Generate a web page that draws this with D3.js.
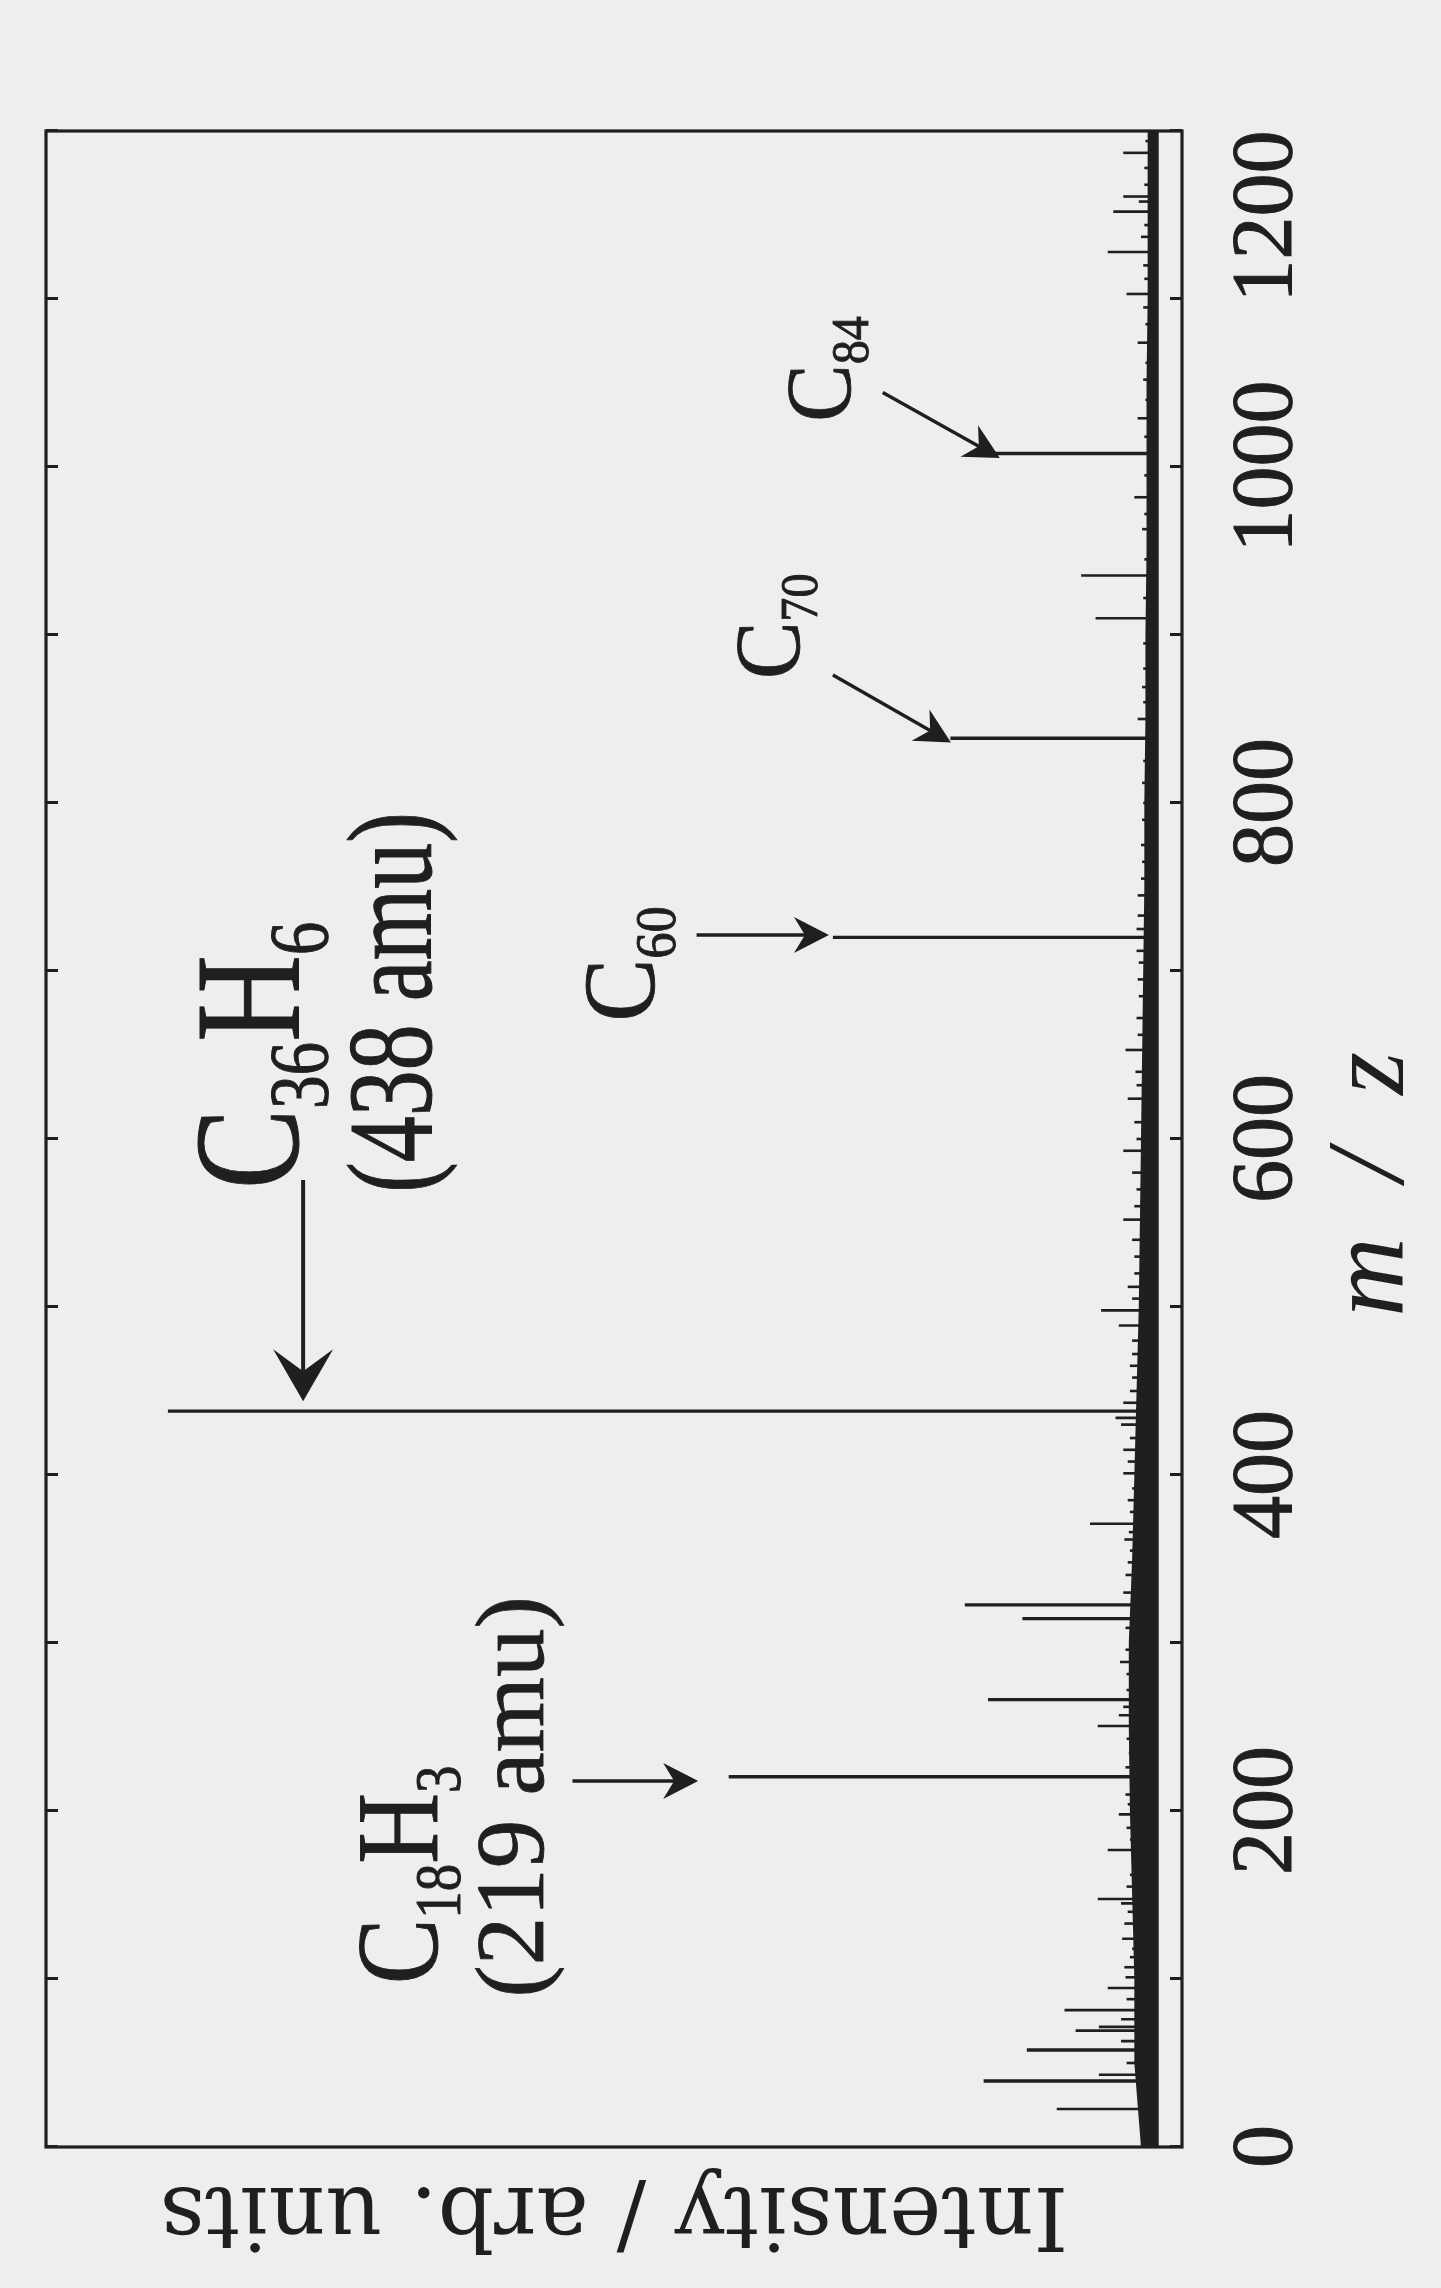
<!DOCTYPE html>
<html>
<head>
<meta charset="utf-8">
<script src="https://cdn.jsdelivr.net/npm/d3@7"></script>
<style>
  body { margin: 0; background: #eeeeef; }
  svg { display: block; }
</style>
</head>
<body>
<div id="chart"></div>
<script>
// stick spectrum: m/z of each visible stick and its height (arb. units, full frame = 100)
const peakMz = [22.6, 30, 39.3, 43, 50, 57.7, 63, 69.3, 71.5, 76, 81.5, 88, 94.6, 101, 107, 113, 118, 124,
    133, 140, 145, 147.6, 155, 162, 170.8, 176.8, 183, 190, 198, 204, 209.8, 214, 220.4, 226, 234.5, 243,
    250.6, 257, 262, 266.3, 272, 281.5, 288.7, 296, 303, 309, 314.5, 322.7, 330, 340.5, 348, 355, 361.6,
    366, 371, 378, 385, 392, 401, 408, 415, 422, 430, 434, 438, 443, 450, 458, 465, 472, 480, 489, 498,
    505, 512, 520, 530, 540, 552, 560, 570, 580, 593, 600, 610, 624, 632, 640, 653, 662, 672, 685, 695,
    705, 712, 720, 725, 733, 745, 755, 765, 775, 790, 800, 812, 825, 838.5, 850, 860, 869, 880, 895, 910,
    922, 935.4, 945, 963, 972, 982, 995, 1008, 1018, 1029, 1040, 1052, 1062, 1074, 1085, 1095, 1103,
    1112, 1120, 1128, 1137, 1144, 1152, 1158, 1161, 1168, 1178, 1187, 1194]
const peakInt = [8.8, 1.2, 15.4, 5.0, 2.5, 11.5, 3.0, 7.1, 5.0, 3.0, 8.1, 2.5, 4.2, 2.6, 2.7, 2.2, 2.0, 2.9,
    2.7, 2.4, 3.0, 5.1, 2.5, 2.2, 1.8, 4.2, 2.2, 2.5, 3.2, 2.4, 2.6, 2.2, 38.4, 2.6, 2.3, 2.5,
    5.1, 3.2, 2.8, 15.0, 2.5, 2.5, 3.1, 2.6, 2.2, 2.6, 11.9, 17.1, 2.8, 2.6, 2.4, 2.2, 2.7,
    2.3, 5.8, 2.2, 2.4, 2.0, 2.8, 2.4, 2.8, 2.2, 3.0, 3.5, 89.0, 2.8, 2.2, 2.0, 2.2, 2.0, 2.0, 3.2, 4.8,
    2.0, 2.4, 1.8, 1.8, 2.0, 2.8, 1.8, 1.6, 2.0, 2.8, 1.6, 1.8, 2.4, 1.6, 1.7, 2.6, 1.5, 1.6, 1.4, 1.5,
    1.4, 1.6, 29.0, 1.6, 1.5, 1.5, 1.2, 1.1, 1.2, 1.1, 1.0, 1.1, 1.0, 18.4, 1.5, 1.0, 1.1, 1.0, 1.0, 5.3,
    1.0, 6.6, 0.9, 1.1, 0.9, 1.8, 0.9, 14.5, 0.9, 1.5, 0.8, 1.0, 0.8, 1.5, 0.8, 1.0, 2.5,
    0.9, 1.0, 4.2, 1.2, 0.9, 3.7, 1.4, 2.8, 0.9, 0.9, 2.8, 0.8]

// height of the dense noise band that makes the thick baseline
const noiseMz = [0, 50, 100, 150, 200, 250, 300, 350, 400, 450, 500, 550, 600, 650, 700, 750, 800, 850,
    900, 950, 1000, 1050, 1100, 1150, 1200]
const noiseInt = [1.2, 1.8, 1.8, 2.0, 2.2, 2.3, 2.3, 2.0, 1.8, 1.6, 1.4, 1.3, 1.2, 1.1, 1.0, 0.9, 0.9, 0.8,
    0.8, 0.7, 0.7, 0.7, 0.6, 0.6, 0.6]

// axis ticks
const tickMz = [0, 100, 200, 300, 400, 500, 600, 700, 800, 900, 1000, 1100, 1200]
const labelledMz = [0, 200, 400, 600, 800, 1000, 1200]

// peak labels: text parts (plain, sub, plain, sub) and where they start, in data units
const labelParts = [["C", "36", "H", "6"], ["(438 amu)"], ["C", "18", "H", "3"], ["(219 amu)"],
    ["C", "60"], ["C", "70"], ["C", "84"]]
const labelMz = [570.2, 568, 97, 89, 670, 873.8, 1027]
const labelInt = [77.3, 65.3, 64.7, 55.2, 45.1, 32.1, 27.5]

// arrows: tail and tip, in data units
const arrowFrom = [[575.6, 76.8], [217.9, 52.5], [721.4, 41.3], [876.2, 29.0], [1044.3, 24.5]]
const arrowTo = [[457, 76.8], [217.9, 42.6], [721.4, 30.8], [840.8, 19.6], [1010, 15.2]]

// label styling (font size, vertical stretch of the glyphs)
const labelSize = [120, 92, 98, 97, 94, 86, 86]
const labelStretch = [1.25, 1.32, 1.18, 1.0, 1.08, 1.08, 1.08]

const ink = "#1f1f1f"
const serif = "'Liberation Serif', 'DejaVu Serif', serif"

// the chart is drawn upright, then turned a quarter turn counter-clockwise
const width = 2016, height = 1136

const svg = d3.select("#chart")
    .append("svg")
    .attr("width", 1441)
    .attr("height", 2288)

svg.append("rect")
    .attr("width", 1441)
    .attr("height", 2288)
    .attr("fill", "#eeeeef")

const defs = svg.append("defs")
defs.append("marker")
    .attr("id", "headBig")
    .attr("markerUnits", "userSpaceOnUse")
    .attr("viewBox", "-60 -35 62 70")
    .attr("markerWidth", 62)
    .attr("markerHeight", 70)
    .attr("refX", -22)
    .attr("refY", 0)
    .attr("orient", "auto")
    .append("path")
    .attr("d", "M0,0 L-52,-30 L-30,0 L-52,30 Z")
    .attr("fill", ink)
defs.append("marker")
    .attr("id", "headSmall")
    .attr("markerUnits", "userSpaceOnUse")
    .attr("viewBox", "-40 -22 42 44")
    .attr("markerWidth", 42)
    .attr("markerHeight", 44)
    .attr("refX", -16)
    .attr("refY", 0)
    .attr("orient", "auto")
    .append("path")
    .attr("d", "M0,0 L-35,-18 L-24,0 L-35,18 Z")
    .attr("fill", ink)

const g = svg.append("g")
    .attr("transform", "translate(46, 2147) rotate(-90)")

const x = d3.scaleLinear().domain([0, 1200]).range([0, width])
const y = d3.scaleLinear().domain([-2.5, 100]).range([height, 0])

// noise band along the baseline
g.append("path")
    .datum(noiseMz.map((m, i) => ({mz: m, v: noiseInt[i]})))
    .attr("d", d3.area()
        .x(d => x(d.mz))
        .y0(y(-0.4))
        .y1(d => y(d.v)))
    .attr("fill", ink)

// sticks
g.selectAll(".stick")
    .data(peakMz.map((m, i) => ({mz: m, v: peakInt[i]})))
    .join("line")
    .attr("class", "stick")
    .attr("x1", d => x(d.mz))
    .attr("x2", d => x(d.mz))
    .attr("y1", y(0))
    .attr("y2", d => y(d.v))
    .attr("stroke", ink)
    .attr("stroke-width", d => d.v > 10 ? 3.4 : 2.6)

// frame
g.append("rect")
    .attr("width", width)
    .attr("height", height)
    .attr("fill", "none")
    .attr("stroke", ink)
    .attr("stroke-width", 3.2)

// m/z axis (bottom when upright) with inward ticks
const xAxis = g.append("g")
    .attr("transform", `translate(0, ${height})`)
    .call(d3.axisBottom(x)
        .tickValues(tickMz)
        .tickSizeInner(-12)
        .tickSizeOuter(0)
        .tickPadding(48)
        .tickFormat(d => labelledMz.includes(d) ? d : ""))
xAxis.select(".domain").remove()
xAxis.selectAll("line").attr("stroke", ink).attr("stroke-width", 3)
xAxis.selectAll("text")
    .attr("fill", ink)
    .attr("stroke", ink)
    .attr("stroke-width", 1)
    .attr("text-anchor", d => d === 1200 ? "end" : "middle")
    .style("font-family", serif)
    .style("font-size", "86px")

// matching ticks on the opposite side, no labels
const topAxis = g.append("g")
    .call(d3.axisTop(x)
        .tickValues(tickMz)
        .tickSizeInner(-12)
        .tickSizeOuter(0)
        .tickFormat(""))
topAxis.select(".domain").remove()
topAxis.selectAll("line").attr("stroke", ink).attr("stroke-width", 3)

// axis titles
const mzTitle = g.append("text")
    .attr("x", x(573))
    .attr("y", height + 221)
    .attr("text-anchor", "middle")
    .attr("fill", ink)
    .style("font-family", serif)
    .style("font-style", "italic")
    .style("font-size", "110px")
mzTitle.append("tspan").text("m")
mzTitle.append("tspan").attr("dx", 56).text("/")
mzTitle.append("tspan").attr("dx", 56).text("z")

g.append("text")
    .attr("transform", `translate(-41, ${height / 2}) rotate(-90)`)
    .attr("text-anchor", "middle")
    .attr("fill", ink)
    .style("font-family", "'DejaVu Serif', serif")
    .style("font-size", "88px")
    .text("Intensity / arb. units")

// peak labels
labelParts.forEach((parts, i) => {
    const s = labelSize[i]
    const t = g.append("text")
        .attr("transform", `translate(${x(labelMz[i])}, ${y(labelInt[i])}) scale(1, ${labelStretch[i]})`)
        .attr("fill", ink)
        .attr("stroke", ink)
        .attr("stroke-width", 0.8)
        .style("font-family", serif)
        .style("font-size", s + "px")
    parts.forEach((p, j) => {
        const sub = j % 2 === 1
        t.append("tspan")
            .attr("dy", j === 0 ? 0 : (sub ? 0.2 * s : -0.2 * s))
            .style("font-size", sub ? (0.56 * s) + "px" : null)
            .text(p)
    })
})

// arrows
arrowFrom.forEach((f, i) => {
    g.append("line")
        .attr("x1", x(f[0]))
        .attr("y1", y(f[1]))
        .attr("x2", x(arrowTo[i][0]))
        .attr("y2", y(arrowTo[i][1]))
        .attr("stroke", ink)
        .attr("stroke-width", i === 0 ? 4 : 3.4)
        .attr("marker-end", i === 0 ? "url(#headBig)" : "url(#headSmall)")
})
</script>
</body>
</html>
